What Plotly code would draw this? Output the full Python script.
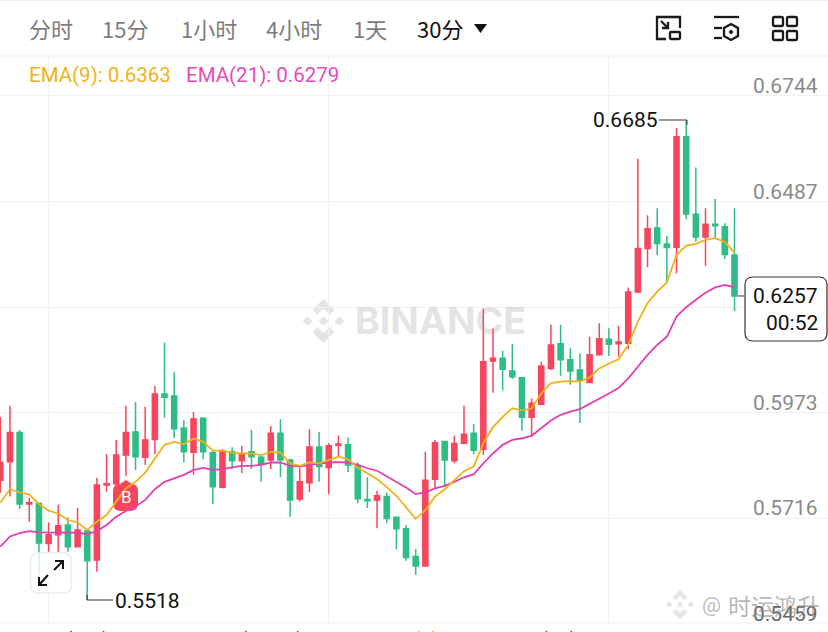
import plotly.graph_objects as go

W, H = 828, 632
UP = '#F6465D'
DOWN = '#2EBD85'
GRID = '#F1F1F1'

# candles, oldest first (red = up, green = down)
opens = [0.5809, 0.5854, 0.5925, 0.5751, 0.5753, 0.5655, 0.5676, 0.5700, 0.5647, 0.5685,
         0.5615, 0.5797, 0.5800, 0.5870, 0.5926, 0.5865, 0.5908, 0.6019, 0.6014, 0.5936,
         0.5877, 0.5960, 0.5876, 0.5792, 0.5878, 0.5856, 0.5878, 0.5865, 0.5858, 0.5923,
         0.5858, 0.5763, 0.5803, 0.5890, 0.5840, 0.5894, 0.5895, 0.5844, 0.5762, 0.5761,
         0.5769, 0.5719, 0.5691, 0.5623, 0.5600, 0.5811, 0.5903, 0.5856, 0.5899, 0.5923,
         0.5884, 0.6099, 0.6106, 0.6075, 0.6058, 0.5962, 0.5994, 0.6081, 0.6141, 0.6102,
         0.6077, 0.6047, 0.6114, 0.6152, 0.6141, 0.6142, 0.6267, 0.6373, 0.6423, 0.6384,
         0.6376, 0.6645, 0.6456, 0.6401, 0.6432, 0.6426, 0.6357]
highs = [0.5963, 0.5990, 0.5931, 0.5766, 0.5754, 0.5706, 0.5749, 0.5718, 0.5741, 0.5688,
         0.5815, 0.5873, 0.5907, 0.5990, 0.5999, 0.5988, 0.6038, 0.6144, 0.6073, 0.5955,
         0.5975, 0.5962, 0.5881, 0.5884, 0.5889, 0.5892, 0.5931, 0.5870, 0.5941, 0.5957,
         0.5861, 0.5839, 0.5933, 0.5926, 0.5899, 0.5918, 0.5913, 0.5852, 0.5816, 0.5783,
         0.5779, 0.5719, 0.5700, 0.5641, 0.5878, 0.5907, 0.5904, 0.5917, 0.5990, 0.5946,
         0.6227, 0.6178, 0.6124, 0.6140, 0.6058, 0.6008, 0.6097, 0.6187, 0.6187, 0.6130,
         0.6118, 0.6158, 0.6191, 0.6179, 0.6185, 0.6278, 0.6591, 0.6454, 0.6471, 0.6403,
         0.6666, 0.6685, 0.6570, 0.6471, 0.6493, 0.6434, 0.6471]
lows = [0.5778, 0.5769, 0.5739, 0.5708, 0.5578, 0.5635, 0.5635, 0.5635, 0.5647, 0.5518,
        0.5586, 0.5781, 0.5793, 0.5820, 0.5834, 0.5846, 0.5873, 0.5961, 0.5911, 0.5852,
        0.5822, 0.5860, 0.5751, 0.5789, 0.5836, 0.5826, 0.5836, 0.5805, 0.5836, 0.5817,
        0.5720, 0.5757, 0.5780, 0.5805, 0.5775, 0.5866, 0.5829, 0.5753, 0.5741, 0.5692,
        0.5704, 0.5641, 0.5613, 0.5578, 0.5598, 0.5789, 0.5793, 0.5850, 0.5899, 0.5872,
        0.5870, 0.6022, 0.6028, 0.6056, 0.5929, 0.5917, 0.5992, 0.6077, 0.6063, 0.6041,
        0.5948, 0.6047, 0.6112, 0.6111, 0.6110, 0.6128, 0.6264, 0.6327, 0.6357, 0.6290,
        0.6312, 0.6444, 0.6389, 0.6331, 0.6398, 0.6347, 0.6221]
closes = [0.5852, 0.5925, 0.5751, 0.5754, 0.5656, 0.5676, 0.5698, 0.5647, 0.5688, 0.5613,
          0.5797, 0.5800, 0.5870, 0.5925, 0.5866, 0.5907, 0.6019, 0.6011, 0.5934, 0.5878,
          0.5958, 0.5878, 0.5793, 0.5878, 0.5856, 0.5874, 0.5866, 0.5848, 0.5923, 0.5858,
          0.5761, 0.5805, 0.5890, 0.5842, 0.5893, 0.5897, 0.5846, 0.5764, 0.5759, 0.5771,
          0.5716, 0.5691, 0.5621, 0.5600, 0.5809, 0.5900, 0.5858, 0.5898, 0.5921, 0.5882,
          0.6097, 0.6106, 0.6079, 0.6061, 0.5962, 0.5996, 0.6087, 0.6138, 0.6102, 0.6075,
          0.6053, 0.6114, 0.6153, 0.6140, 0.6145, 0.6267, 0.6373, 0.6421, 0.6385, 0.6375,
          0.6645, 0.6457, 0.6401, 0.6432, 0.6428, 0.6358, 0.6257]

ema9 = [0.5754, 0.5787, 0.5779, 0.5774, 0.5751, 0.5735, 0.5728, 0.5712, 0.5706, 0.5688,
        0.5708, 0.5724, 0.5757, 0.5789, 0.5805, 0.5827, 0.5862, 0.5895, 0.5902, 0.5897,
        0.5910, 0.5903, 0.5881, 0.5881, 0.5876, 0.5874, 0.5874, 0.5870, 0.5878, 0.5876,
        0.5850, 0.5844, 0.5852, 0.5850, 0.5858, 0.5866, 0.5860, 0.5839, 0.5826, 0.5812,
        0.5792, 0.5771, 0.5743, 0.5715, 0.5736, 0.5769, 0.5787, 0.5809, 0.5831, 0.5842,
        0.5899, 0.5938, 0.5963, 0.5984, 0.5979, 0.5984, 0.6020, 0.6045, 0.6049, 0.6050,
        0.6049, 0.6059, 0.6081, 0.6093, 0.6103, 0.6138, 0.6195, 0.6240, 0.6268, 0.6290,
        0.6357, 0.6380, 0.6384, 0.6394, 0.6398, 0.6389, 0.6363]
ema21 = [0.5647, 0.5672, 0.5680, 0.5685, 0.5682, 0.5682, 0.5682, 0.5681, 0.5681, 0.5678,
         0.5685, 0.5700, 0.5720, 0.5734, 0.5745, 0.5761, 0.5787, 0.5805, 0.5814, 0.5822,
         0.5834, 0.5839, 0.5834, 0.5836, 0.5840, 0.5844, 0.5844, 0.5846, 0.5852, 0.5852,
         0.5844, 0.5842, 0.5847, 0.5850, 0.5852, 0.5853, 0.5852, 0.5846, 0.5838, 0.5832,
         0.5819, 0.5805, 0.5791, 0.5775, 0.5779, 0.5789, 0.5795, 0.5805, 0.5816, 0.5823,
         0.5850, 0.5874, 0.5895, 0.5907, 0.5911, 0.5917, 0.5936, 0.5954, 0.5968, 0.5976,
         0.5982, 0.5994, 0.6008, 0.6020, 0.6033, 0.6057, 0.6085, 0.6114, 0.6138, 0.6158,
         0.6207, 0.6230, 0.6248, 0.6265, 0.6278, 0.6284, 0.6279]

price_ticks = [0.6744, 0.6487, 0.6230, 0.5973, 0.5716, 0.5459]
price_labels = ['0.6744', '0.6487', '', '0.5973', '0.5716', '0.5459']
time_ticks = [5, 34, 63]
periods = ['分时', '15分', '1小时', '4小时', '1天']
period_x = [27, 100, 179, 264, 351]


# everything that is not data is placed in screen pixels
def px(x):
    return x / W


def py(y):
    return 1 - y / H


def path(points, close=True):
    d = 'M ' + ' L '.join(f'{px(x):.5f} {py(y):.5f}' for x, y in points)
    return d + (' Z' if close else '')


def round_rect(x0, y0, x1, y1, r):
    return (f'M {px(x0 + r):.5f} {py(y0):.5f} L {px(x1 - r):.5f} {py(y0):.5f} '
            f'Q {px(x1):.5f} {py(y0):.5f} {px(x1):.5f} {py(y0 + r):.5f} '
            f'L {px(x1):.5f} {py(y1 - r):.5f} Q {px(x1):.5f} {py(y1):.5f} {px(x1 - r):.5f} {py(y1):.5f} '
            f'L {px(x0 + r):.5f} {py(y1):.5f} Q {px(x0):.5f} {py(y1):.5f} {px(x0):.5f} {py(y1 - r):.5f} '
            f'L {px(x0):.5f} {py(y0 + r):.5f} Q {px(x0):.5f} {py(y0):.5f} {px(x0 + r):.5f} {py(y0):.5f} Z')


def shape_path(d, fill='rgba(0,0,0,0)', line=None, width=0, layer='above'):
    return dict(type='path', xref='paper', yref='paper', path=d, fillcolor=fill, layer=layer,
                line=dict(color=line or 'rgba(0,0,0,0)', width=width))


def logo(cx, cy, r, color, layer):
    parts = []
    for dx, dy, s in [(0, 0, 0.22), (-0.72, 0, 0.22), (0.72, 0, 0.22)]:
        parts.append([(cx + dx * r, cy - s * r), (cx + (dx + s) * r, cy), (cx + dx * r, cy + s * r), (cx + (dx - s) * r, cy)])
    for sign in (-1, 1):
        chevron = [(0, 1), (0.5, 0.5), (0.28, 0.28), (0, 0.56), (-0.28, 0.28), (-0.5, 0.5)]
        parts.append([(cx + a * r, cy + sign * b * r) for a, b in chevron])
    return [shape_path(path(p), fill=color, layer=layer) for p in parts]


def text(x, y, s, size, color, anchor='left', font='Roboto', **kw):
    return dict(xref='paper', yref='paper', x=px(x), y=py(y), text=s, showarrow=False, xanchor=anchor, yanchor='middle',
                font=dict(family=font, size=size, color=color), **kw)


fig = go.Figure()
fig.add_trace(go.Candlestick(
    x=list(range(len(opens))), open=opens, high=highs, low=lows, close=closes,
    increasing=dict(line=dict(color=UP, width=1.5), fillcolor=UP),
    decreasing=dict(line=dict(color=DOWN, width=1.5), fillcolor=DOWN),
    whiskerwidth=0, hoverinfo='skip', showlegend=False
))
fig.add_trace(go.Scatter(x=list(range(len(ema21))), y=ema21, mode='lines', hoverinfo='skip', showlegend=False,
                         line=dict(color='#E23FB0', width=1.8)))
fig.add_trace(go.Scatter(x=list(range(len(ema9))), y=ema9, mode='lines', hoverinfo='skip', showlegend=False,
                         line=dict(color='#F0B216', width=1.8)))

shapes = []
# watermark and trade badge sit behind the candles
shapes += logo(323.5, 321, 22, '#E4E4E4', 'between')
badge = (f'M {px(113):.5f} {py(492):.5f} Q {px(113):.5f} {py(484):.5f} {px(120):.5f} {py(484):.5f} '
         f'L {px(126):.5f} {py(480):.5f} L {px(132):.5f} {py(484):.5f} '
         f'Q {px(138):.5f} {py(484):.5f} {px(138):.5f} {py(492):.5f} L {px(138):.5f} {py(503):.5f} '
         f'Q {px(138):.5f} {py(511):.5f} {px(130):.5f} {py(511):.5f} L {px(121):.5f} {py(511):.5f} '
         f'Q {px(113):.5f} {py(511):.5f} {px(113):.5f} {py(503):.5f} Z')
shapes.append(shape_path(badge, fill=UP, layer='between'))

# header and bottom strip cover the chart
shapes.append(dict(type='rect', xref='paper', yref='paper', x0=0, x1=1, y0=py(56), y1=1, fillcolor='white', line_width=0))
shapes.append(dict(type='rect', xref='paper', yref='paper', x0=0, x1=1, y0=0, y1=py(623), fillcolor='white', line_width=0))
for y in (0.5, 56, 623):
    shapes.append(dict(type='line', xref='paper', yref='paper', x0=0, x1=1, y0=py(y), y1=py(y), line=dict(color='#EFEFEF', width=1)))

# period dropdown arrow
shapes.append(shape_path(path([(474, 24), (487, 24), (480.5, 33)]), fill='#111111'))

# toolbar icons
ink = dict(line='#1A1A1A', width=2.3)
shapes.append(shape_path(path([(680, 28), (680, 17), (657, 17), (657, 39), (666, 39)], close=False), **ink))
shapes.append(shape_path(round_rect(670, 32, 680, 39, 1), **ink))
shapes.append(shape_path(path([(661, 21), (668, 28)], close=False), **ink))
shapes.append(shape_path(path([(668, 22), (668, 28), (662, 28)], close=False), **ink))
shapes.append(shape_path(path([(714, 17), (739, 17)], close=False), **ink))
shapes.append(shape_path(path([(714, 28), (722, 28)], close=False), **ink))
shapes.append(shape_path(path([(714, 38), (722, 38)], close=False), **ink))
shapes.append(shape_path(path([(731, 24), (738, 28), (738, 36), (731, 40), (724, 36), (724, 28)]), **ink))
shapes.append(shape_path(path([(731, 29.5), (733.5, 32), (731, 34.5), (728.5, 32)]), fill='#1A1A1A'))
for x0, y0 in [(773, 17), (787, 17), (773, 31), (787, 31)]:
    shapes.append(shape_path(round_rect(x0, y0, x0 + 10, y0 + 9, 1.5), **ink))

# expand button
shapes.append(shape_path(round_rect(30.5, 553, 71.5, 593, 8), fill='rgba(255,255,255,0.8)', line='#ECECEC', width=1.5))
for seg in [[(39, 585), (48, 575)], [(63, 561), (54, 570)], [(39, 577), (39, 585), (47, 585)], [(55, 561), (63, 561), (63, 569)]]:
    shapes.append(shape_path(path(seg, close=False), line='#111111', width=2))

# high / low leaders and last price tag
shapes.append(shape_path(path([(659, 120), (687, 120), (687, 125)], close=False), line='#333333', width=1))
shapes.append(shape_path(path([(87, 595), (87, 600), (113, 600)], close=False), line='#333333', width=1))
shapes.append(shape_path(path([(738, 296), (744, 296)], close=False), line='#333333', width=1))
shapes.append(shape_path(round_rect(745, 277, 827, 341, 8), fill='white', line='#333333', width=1.2))

# watermark bottom right
shapes += logo(680, 604.5, 15, '#E6E6E6', 'above')

annotations = []
for x, s in zip(period_x, periods):
    annotations.append(text(x, 28, s, 22, '#7D7D7D', font='Noto Sans CJK SC'))
annotations.append(text(415, 28, '30分', 22, '#111111', font='Noto Sans CJK SC'))
annotations.append(text(27, 75, 'EMA(9): 0.6363', 20.5, '#F0B216'))
annotations.append(text(184, 75, 'EMA(21): 0.6279', 20.5, '#E84CB8'))

for value, label in zip(price_ticks, price_labels):
    if label:
        color = '#666666' if value == 0.5459 else '#8A8A8A'
        annotations.append(dict(xref='paper', yref='y', x=px(820), y=value, yshift=-4, text=label, showarrow=False,
                                xanchor='right', yanchor='bottom', font=dict(family='Roboto', size=21, color=color)))

annotations.append(text(660, 120, '0.6685', 21, '#111111', anchor='right'))
annotations.append(text(113, 601, '0.5518', 21, '#111111'))
annotations.append(text(820, 296, '0.6257', 21, '#111111', anchor='right'))
annotations.append(text(820, 323, '00:52', 21, '#111111', anchor='right'))
annotations.append(text(126, 497, 'B', 17, 'white', anchor='center'))
annotations.append(text(353, 320.5, 'BINANCE', 37.5, 'rgba(150,150,150,0.27)', font='Liberation Sans'))
annotations[-1]['font']['family'] = 'Inter, Liberation Sans'
annotations[-1]['font']['weight'] = 700
annotations.append(text(700, 605, '@', 21, 'rgba(150,150,150,0.65)'))
annotations.append(text(726, 605, '时运鸿升', 23, 'rgba(140,140,140,0.65)', font='Noto Sans CJK SC'))
annotations.append(text(26, 640, 'VOL(SUI): 1.40M', 20, '#444444'))
annotations.append(text(201, 640, 'VOL(USDT): 790K', 20, '#444444'))
annotations.append(text(381, 640, 'MA(5): 843K', 20, '#F0B216'))
annotations.append(text(508, 640, 'MA(10): 1.03M', 20, '#444444'))

fig.update_layout(
    width=W, height=H, autosize=False,
    margin=dict(l=0, r=0, t=0, b=0),
    paper_bgcolor='white', plot_bgcolor='white',
    boxgap=0.25,
    xaxis=dict(range=[-0.03, 85.68], rangeslider=dict(visible=False), tickvals=time_ticks, showticklabels=False,
               showgrid=True, gridcolor=GRID, gridwidth=1, zeroline=False, showline=False, ticks=''),
    yaxis=dict(range=[0.54395, 0.69776], tickvals=price_ticks, showticklabels=False,
               showgrid=True, gridcolor=GRID, gridwidth=1, zeroline=False, showline=False, ticks=''),
    shapes=shapes, annotations=annotations,
)

fig.write_html('out.html', config=dict(displayModeBar=False),
               post_script="document.body.style.margin='0';document.documentElement.style.overflow='hidden';")
